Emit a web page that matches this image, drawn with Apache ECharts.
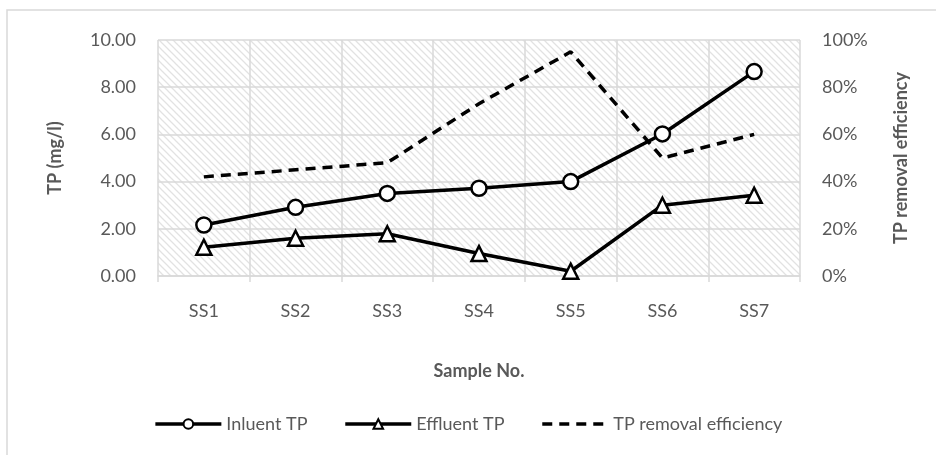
<!DOCTYPE html>
<html>
<head>
<meta charset="utf-8">
<script src="https://cdn.jsdelivr.net/npm/echarts@6/dist/echarts.min.js"></script>
<style>
html,body{margin:0;padding:0;background:#fff;}
#chart{width:936px;height:455px;}
</style>
</head>
<body>
<div id="chart"></div>
<script>
const categories = ['SS1','SS2','SS3','SS4','SS5','SS6','SS7'];
const influentTP = [2.16, 2.91, 3.50, 3.72, 4.00, 6.02, 8.66];
const effluentTP = [1.22, 1.60, 1.79, 0.95, 0.20, 3.00, 3.42];
const removalEfficiency = [42, 45, 48, 73, 95, 50, 60];
const leftTicks = {min: 0, max: 10, interval: 2};
const rightTicks = {min: 0, max: 100, interval: 20};

// hatch pattern tile
const T = 7;
const tile = document.createElement('canvas');
tile.width = T; tile.height = T;
const c = tile.getContext('2d');
c.fillStyle = '#ffffff';
c.fillRect(0,0,T,T);
c.strokeStyle = '#e2e2e2';
c.lineWidth = 1.3;
c.beginPath();
c.moveTo(-1,-1); c.lineTo(T+1,T+1);
c.moveTo(-1-T,-1); c.lineTo(1,T+1);
c.moveTo(T-1,-1); c.lineTo(2*T+1,T+1);
c.stroke();

const txt = '#595959';
const font = 'Lato';
const chart = echarts.init(document.getElementById('chart'), null, {renderer:'canvas'});
chart.setOption({
  animation: false,
  backgroundColor: '#fff',
  textStyle: {fontFamily: font},
  graphic: [{
    type: 'rect', silent: true, z: -10,
    shape: {x: 7, y: 10, width: 1000, height: 1000},
    style: {fill: 'none', stroke: '#d9d9d9', lineWidth: 1.5}
  }],
  grid: {
    left: 158, right: 136, top: 40, bottom: 179,
    show: true, borderWidth: 0,
    backgroundColor: {image: tile, repeat: 'repeat'}
  },
  legend: {
    bottom: 17, left: 'center',
    itemWidth: 66, itemHeight: 12, itemGap: 36,
    textStyle: {color: txt, fontSize: 18, fontFamily: font},
    data: [
      {name: 'Inluent TP', lineStyle: {width: 3.5}},
      {name: 'Effluent TP', lineStyle: {width: 3.5}},
      {name: 'TP removal efficiency', itemStyle: {opacity: 0}, lineStyle: {width: 3.5}}
    ]
  },
  xAxis: {
    type: 'category', data: categories, boundaryGap: true,
    name: 'Sample No.', nameLocation: 'middle', nameGap: 86,
    nameTextStyle: {color: txt, fontWeight: 'bold', fontSize: 18, fontFamily: font},
    axisLine: {show: true, lineStyle: {color: '#d9d9d9', width: 1.5}},
    axisTick: {show: true, length: 6, lineStyle: {color: '#d9d9d9', width: 1.5}},
    axisLabel: {color: txt, fontSize: 18, margin: 26, fontFamily: font},
    splitLine: {show: true, lineStyle: {color: '#d9d9d9', width: 1.5}}
  },
  yAxis: [{
    type: 'value', min: leftTicks.min, max: leftTicks.max, interval: leftTicks.interval,
    name: 'TP (mg/l)', nameLocation: 'middle', nameGap: 94, nameRotate: 90,
    nameTextStyle: {color: txt, fontWeight: 'bold', fontSize: 18, fontFamily: font},
    axisLine: {show: false}, axisTick: {show: false},
    axisLabel: {color: txt, fontSize: 18, margin: 22, fontFamily: font, formatter: v => v.toFixed(2)},
    splitLine: {show: true, lineStyle: {color: '#d9d9d9', width: 1.5}}
  },{
    type: 'value', position: 'right', min: rightTicks.min, max: rightTicks.max, interval: rightTicks.interval,
    name: 'TP removal efficiency', nameLocation: 'middle', nameGap: 92, nameRotate: 90,
    nameTextStyle: {color: txt, fontWeight: 'bold', fontSize: 18, fontFamily: font},
    axisLine: {show: false}, axisTick: {show: false},
    axisLabel: {color: txt, fontSize: 18, margin: 22, fontFamily: font, formatter: '{value}%'},
    splitLine: {show: false}
  }],
  series: [{
    name: 'Inluent TP', type: 'line', yAxisIndex: 0, data: influentTP,
    symbol: 'circle', symbolSize: 15,
    lineStyle: {color: '#000', width: 3.5},
    itemStyle: {color: '#fff', borderColor: '#000', borderWidth: 2.5},
    z: 3
  },{
    name: 'Effluent TP', type: 'line', yAxisIndex: 0, data: effluentTP,
    symbol: 'triangle', symbolSize: 15,
    lineStyle: {color: '#000', width: 3.5},
    itemStyle: {color: '#fff', borderColor: '#000', borderWidth: 2.5},
    z: 3
  },{
    name: 'TP removal efficiency', type: 'line', yAxisIndex: 1, data: removalEfficiency,
    symbol: 'none',
    lineStyle: {color: '#000', width: 3.5, type: [10, 7]},
    itemStyle: {color: '#000'},
    z: 2
  }]
});
</script>
</body>
</html>
